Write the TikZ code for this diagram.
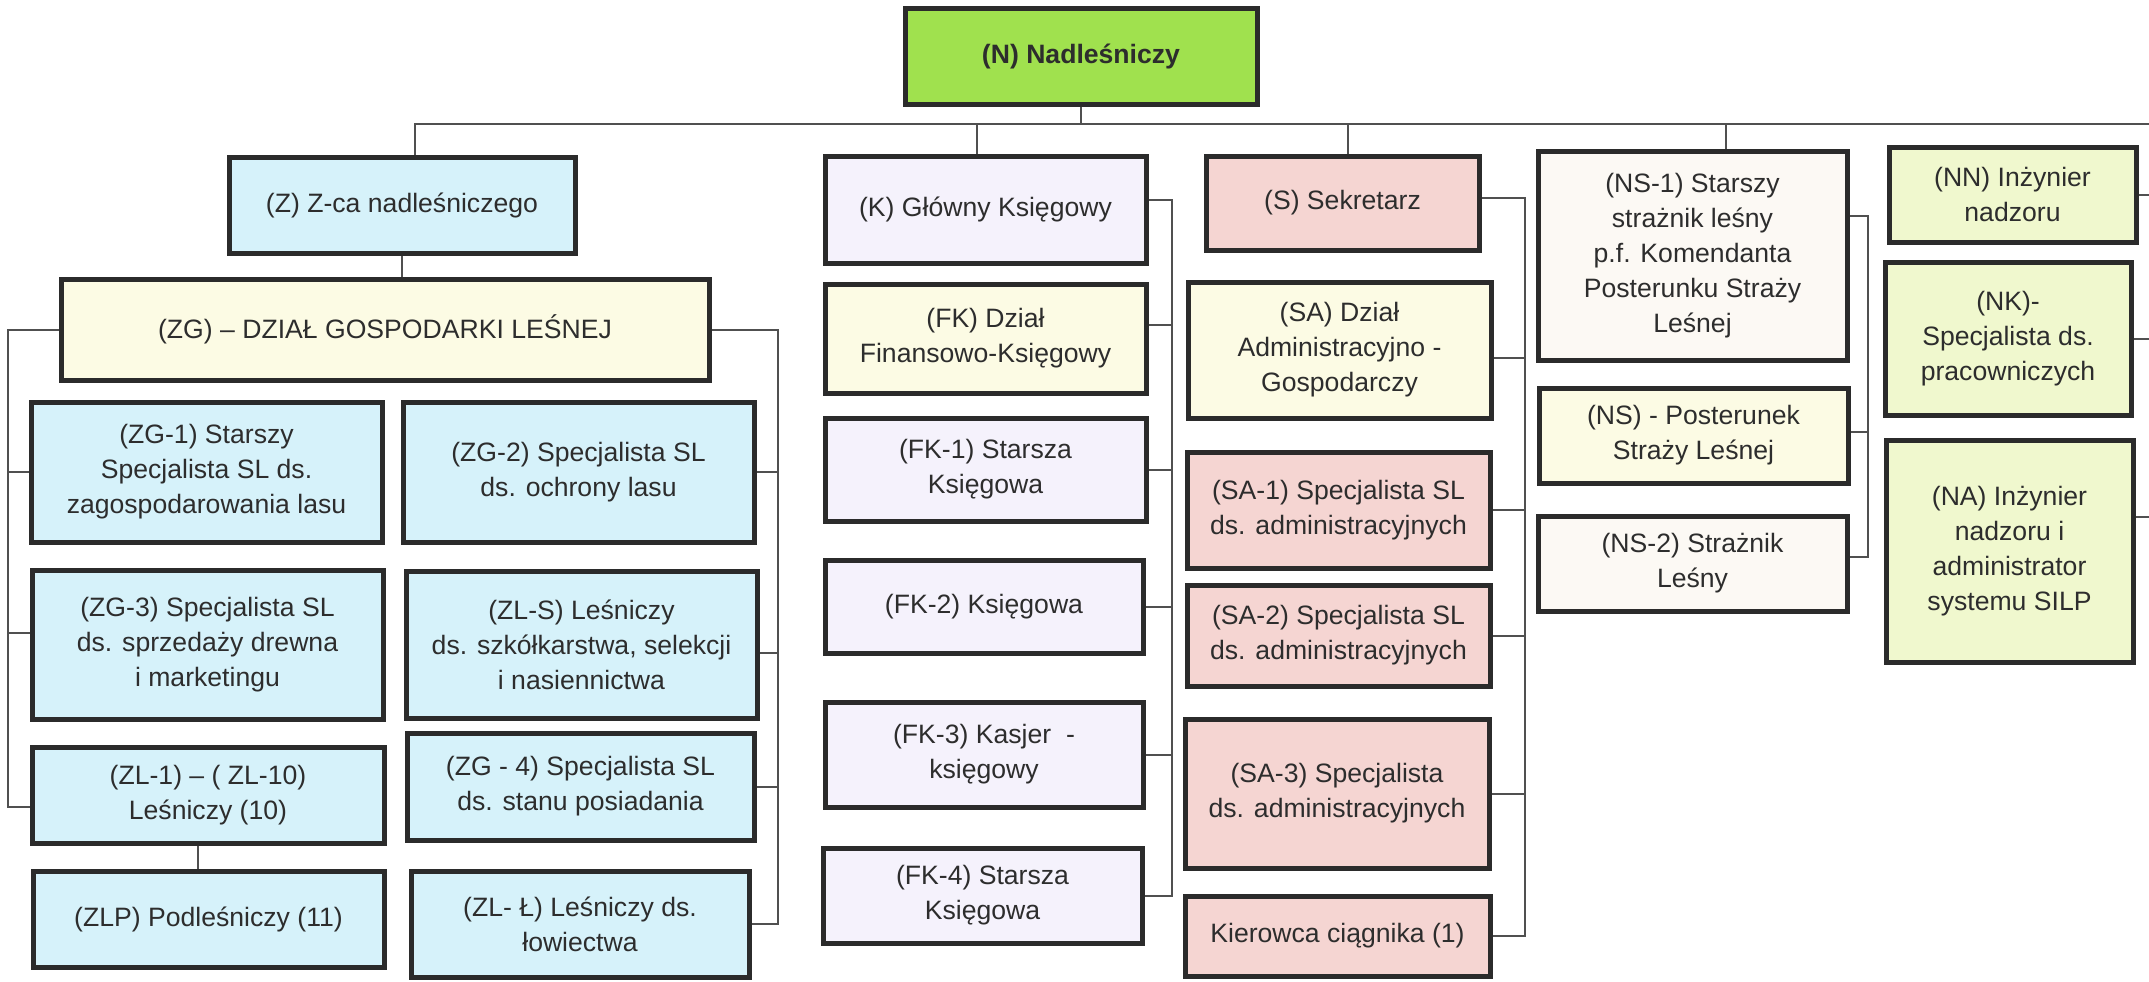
\documentclass[tikz,border=0pt]{standalone}
\usepackage{fontspec}
\setmainfont{Liberation Sans}
\definecolor{cGreen}{RGB}{160,225,78}
\definecolor{cCyan}{RGB}{214,242,250}
\definecolor{cYel}{RGB}{252,251,228}
\definecolor{cLav}{RGB}{245,242,252}
\definecolor{cPink}{RGB}{245,213,210}
\definecolor{cOff}{RGB}{252,249,244}
\definecolor{cYG}{RGB}{240,248,206}
\definecolor{cBord}{RGB}{43,43,43}
\definecolor{cLine}{RGB}{80,80,80}
\definecolor{cText}{RGB}{45,45,45}
\tikzset{
  box/.style={draw=cBord, line width=2.5pt, align=center, inner sep=0pt,
    text=cText, font=\fontsize{13.3pt}{17.5pt}\selectfont},
  conn/.style={draw=cLine, line width=1pt},
}
\newcommand\bx[7]{% name, x1,y1,x2,y2, fill, text
  \node[box,fill=#6,minimum width={(#4-#2)*0.5pt},minimum height={(#5-#3)*0.5pt}]
    (#1) at ({(#2+#4)/2},{(#3+#5)/2}) {#7};}
\begin{document}
\begin{tikzpicture}[x=0.5pt,y=-0.5pt]
\useasboundingbox (0,0) rectangle (2149,981);
% --- boxes ---
\bx{N}{905}{8}{1257}{104}{cGreen}{\textbf{(N) Nadleśniczy}}
\bx{Z}{229}{157}{575}{253}{cCyan}{(Z) Z-ca nadleśniczego}
\bx{ZG}{61}{279}{709}{380}{cYel}{(ZG) – DZIAŁ GOSPODARKI LEŚNEJ}
\bx{ZGa}{31}{402}{382}{542}{cCyan}{(ZG-1) Starszy\\Specjalista SL ds.\\zagospodarowania lasu}
\bx{ZGb}{403}{402}{754}{542}{cCyan}{(ZG-2) Specjalista SL\\ds. ochrony lasu}
\bx{ZGc}{32}{570}{383}{719}{cCyan}{(ZG-3) Specjalista SL\\ds. sprzedaży drewna\\i marketingu}
\bx{ZLS}{406}{571}{757}{718}{cCyan}{(ZL-S) Leśniczy\\ds. szkółkarstwa, selekcji\\i nasiennictwa}
\bx{ZLa}{32}{747}{384}{843}{cCyan}{(ZL-1) – ( ZL-10)\\Leśniczy (10)}
\bx{ZGd}{407}{733}{754}{840}{cCyan}{(ZG - 4) Specjalista SL\\ds. stanu posiadania}
\bx{ZLP}{33}{871}{384}{967}{cCyan}{(ZLP) Podleśniczy (11)}
\bx{ZLL}{411}{871}{749}{977}{cCyan}{(ZL- Ł) Leśniczy ds.\\łowiectwa}
\bx{K}{825}{156}{1146}{263}{cLav}{(K) Główny Księgowy}
\bx{FK}{825}{284}{1146}{393}{cYel}{(FK) Dział\\Finansowo-Księgowy}
\bx{FKa}{825}{418}{1146}{521}{cLav}{(FK-1) Starsza\\Księgowa}
\bx{FKb}{825}{560}{1143}{653}{cLav}{(FK-2) Księgowa}
\bx{FKc}{825}{702}{1143}{807}{cLav}{(FK-3) Kasjer~ -\\księgowy}
\bx{FKd}{823}{848}{1142}{943}{cLav}{(FK-4) Starsza\\Księgowa}
\bx{S}{1206}{156}{1479}{250}{cPink}{(S) Sekretarz}
\bx{SA}{1188}{282}{1491}{418}{cYel}{(SA) Dział\\Administracyjno -\\Gospodarczy}
\bx{SAa}{1187}{452}{1490}{568}{cPink}{(SA-1) Specjalista SL\\ds. administracyjnych}
\bx{SAb}{1187}{585}{1490}{686}{cPink}{(SA-2) Specjalista SL\\ds. administracyjnych}
\bx{SAc}{1185}{719}{1489}{868}{cPink}{(SA-3) Specjalista\\ds. administracyjnych}
\bx{KC}{1185}{896}{1490}{976}{cPink}{Kierowca ciągnika (1)}
\bx{NSa}{1538}{151}{1847}{360}{cOff}{(NS-1) Starszy\\strażnik leśny\\p.f. Komendanta\\Posterunku Straży\\Leśnej}
\bx{NS}{1539}{388}{1848}{483}{cYel}{(NS) - Posterunek\\Straży Leśnej}
\bx{NSb}{1538}{516}{1847}{611}{cOff}{(NS-2) Strażnik\\Leśny}
\bx{NN}{1889}{147}{2136}{242}{cYG}{(NN) Inżynier\\nadzoru}
\bx{NK}{1885}{262}{2131}{415}{cYG}{(NK)-\\Specjalista ds.\\pracowniczych}
\bx{NA}{1886}{440}{2133}{662}{cYG}{(NA) Inżynier\\nadzoru i\\administrator\\systemu SILP}
% --- top level connectors ---
\coordinate (topR) at (2149,124);
\draw[conn] (N.south) -- (N.south |- topR);
\draw[conn] ([xshift=6.5pt]Z.north) |- (topR);
\draw[conn] ([xshift=-4.5pt]K.north) -- ([xshift=-4.5pt]K.north |- topR);
\draw[conn] ([xshift=2.75pt]S.north) -- ([xshift=2.75pt]S.north |- topR);
\draw[conn] ([xshift=16.75pt]NSa.north) -- ([xshift=16.75pt]NSa.north |- topR);
% --- Z branch ---
\draw[conn] (Z.south) -- (Z.south |- ZG.north);
\draw[conn] ([xshift=-5pt]ZLa.south) -- ([xshift=-5pt]ZLa.south |- ZLP.north);
% left bracket of ZG
\coordinate (lbx) at (8,0);
\coordinate (tZGc) at ([yshift=6pt]ZGc.west);
\coordinate (tZLa) at ([yshift=-6pt]ZLa.west);
\draw[conn] (ZG.west) -| (lbx |- tZLa) -- (tZLa);
\draw[conn] (lbx |- ZGa.west) -- (ZGa.west);
\draw[conn] (lbx |- tZGc) -- (tZGc);
% right bracket of ZG
\coordinate (rbx) at (778,0);
\coordinate (tZLS) at ([yshift=-4pt]ZLS.east);
\draw[conn] (ZG.east) -| (rbx |- ZLL.east) -- (ZLL.east);
\draw[conn] (rbx |- ZGb.east) -- (ZGb.east);
\draw[conn] (rbx |- tZLS) -- (tZLS);
\draw[conn] (rbx |- ZGd.east) -- (ZGd.east);
% --- K bracket ---
\coordinate (kbx) at (1172,0);
\coordinate (tK) at ([yshift=5pt]K.east);
\coordinate (tFK) at ([yshift=7pt]FK.east);
\draw[conn] (tK) -| (kbx |- FKd.east) -- (FKd.east);
\draw[conn] (kbx |- tFK) -- (tFK);
\draw[conn] (kbx |- FKa.east) -- (FKa.east);
\draw[conn] (kbx |- FKb.east) -- (FKb.east);
\draw[conn] (kbx |- FKc.east) -- (FKc.east);
% --- S bracket ---
\coordinate (sbx) at (1525,0);
\coordinate (tS) at ([yshift=2.5pt]S.east);
\coordinate (tSA) at ([yshift=-4pt]SA.east);
\draw[conn] (tS) -| (sbx |- KC.east) -- (KC.east);
\draw[conn] (sbx |- tSA) -- (tSA);
\draw[conn] (sbx |- SAa.east) -- (SAa.east);
\draw[conn] (sbx |- SAb.east) -- (SAb.east);
\draw[conn] (sbx |- SAc.east) -- (SAc.east);
% --- NS bracket ---
\coordinate (nbx) at (1868,0);
\coordinate (tNSa) at ([yshift=19.75pt]NSa.east);
\coordinate (tNS) at ([yshift=2pt]NS.east);
\coordinate (tNSb) at ([yshift=3.5pt]NSb.east);
\draw[conn] (tNSa) -| (nbx |- tNSb) -- (tNSb);
\draw[conn] (nbx |- tNS) -- (tNS);
% --- right column connectors ---
\coordinate (rx) at (2149,0);
\coordinate (tNA) at ([yshift=17pt]NA.east);
\draw[conn] (NN.east) -- (NN.east -| rx);
\draw[conn] (NK.east) -- (NK.east -| rx);
\draw[conn] (tNA) -- (tNA -| rx);
\end{tikzpicture}
\end{document}
